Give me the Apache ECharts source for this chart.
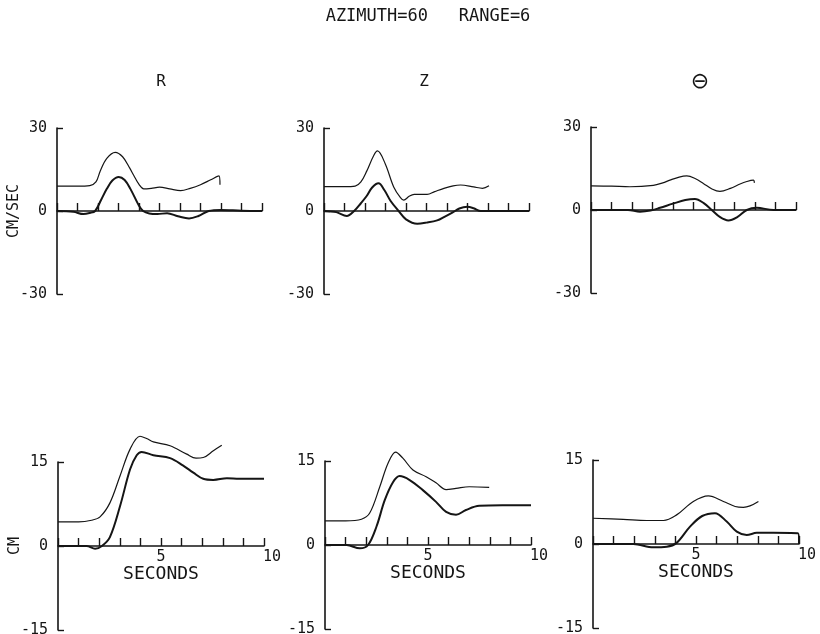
<!DOCTYPE html>
<html>
<head>
<meta charset="utf-8">
<script src="https://cdn.jsdelivr.net/npm/echarts@6/dist/echarts.min.js"></script>
<style>
html,body{margin:0;padding:0;background:#fff;}
#chart{width:820px;height:634px;}
</style>
</head>
<body>
<div id="chart"></div>
<script>
// ---- Data (time in seconds, value) ----
const mainTitle = 'AZIMUTH=60   RANGE=6';
const columnTitles = ['R', 'Z', '\u2296'];
const velocityTicks = [-30, 0, 30];
const displacementTicks = [-15, 0, 15];
const xTickLabels = [5, 10];

// Velocity (CM/SEC)
const rVelUpper = [[0,9.0],[1.0,9.0],[1.6,9.2],[1.9,10.5],[2.11,14.5],[2.43,19],[2.84,21.2],[3.2,19.6],[3.55,15.5],[3.74,12.9],[4.0,9.6],[4.23,8.0],[4.6,8.2],[5.0,8.6],[5.5,8.0],[6.03,7.4],[6.5,8.2],[7.0,9.5],[7.5,11.3],[7.9,12.7],[7.95,9.5]];
const rVelLower = [[0,0],[0.8,-0.3],[1.29,-1.1],[1.6,-0.7],[1.86,0],[2.15,4],[2.43,8],[2.7,11],[3.01,12.3],[3.3,11.2],[3.58,8],[4.0,1.9],[4.2,0],[4.5,-0.9],[4.9,-1.1],[5.37,-0.8],[5.9,-1.9],[6.44,-2.7],[6.9,-1.8],[7.4,0],[8.0,0.4],[9.0,0.1],[10,0]];
const zVelUpper = [[0,8.8],[1.0,8.8],[1.52,9.0],[1.8,10.5],[2.09,14.5],[2.42,20],[2.61,21.7],[2.99,17],[3.4,8.7],[3.73,4.8],[3.89,3.9],[4.15,5.3],[4.4,6.0],[5.03,6.0],[5.4,7.0],[5.85,8.2],[6.3,9.1],[6.66,9.4],[7.3,8.7],[7.73,8.2],[8.05,9.1]];
const zVelLower = [[0,0],[0.6,-0.4],[1.11,-1.8],[1.47,0],[1.8,2.8],[2.09,5.5],[2.35,8.5],[2.66,10],[2.95,7.5],[3.25,3.6],[3.64,0],[4.0,-3.0],[4.55,-4.6],[5.0,-4.2],[5.52,-3.4],[5.9,-2.0],[6.26,-0.6],[6.6,0.9],[6.99,1.5],[7.3,1.0],[7.65,0],[8.5,0],[10,0]];
const thVelUpper = [[0,8.7],[1.0,8.6],[1.9,8.4],[3.04,8.9],[3.5,9.8],[3.85,10.8],[4.3,11.9],[4.67,12.3],[5.1,11.3],[5.48,9.6],[5.9,7.6],[6.29,6.7],[6.8,7.8],[7.27,9.4],[7.6,10.3],[7.92,10.8],[7.97,9.8]];
const thVelLower = [[0,0],[1.8,0],[2.39,-0.6],[2.9,-0.2],[3.37,0.8],[4.0,2.3],[4.6,3.6],[5.07,4.0],[5.5,2.5],[5.89,0],[6.3,-2.6],[6.7,-3.8],[7.15,-2.5],[7.6,0],[8.08,0.8],[8.9,0],[10,0]];

// Displacement (CM)
const rDispUpper = [[0,4.3],[1.0,4.3],[1.63,4.6],[2.04,5.2],[2.52,7.7],[3.01,12.5],[3.5,17.3],[3.98,19.6],[4.3,19.2],[4.63,18.6],[5.44,17.9],[6.25,16.4],[6.7,15.7],[7.05,15.8],[7.54,17.0],[7.95,18.0]];
const rDispLower = [[0,0],[1.39,0],[1.8,-0.5],[2.13,0],[2.52,1.6],[3.01,7.1],[3.5,13.7],[3.82,16.2],[4.06,16.8],[4.63,16.2],[5.44,15.7],[6.06,14.4],[6.57,13.1],[7.05,12.0],[7.54,11.8],[8.2,12.1],[8.8,12.0],[10,12.0]];
const zDispUpper = [[0,4.3],[1.0,4.3],[1.77,4.6],[2.17,5.7],[2.66,10.4],[3.06,14.6],[3.43,16.6],[3.78,15.5],[4.27,13.4],[4.91,12.2],[5.39,11.1],[5.88,9.9],[6.36,10.1],[7.0,10.4],[7.97,10.3]];
const zDispLower = [[0,0],[1.05,0],[1.69,-0.6],[2.09,0],[2.5,3.3],[2.9,8.0],[3.3,11.2],[3.62,12.3],[4.11,11.6],[4.75,9.8],[5.39,7.7],[5.88,5.9],[6.36,5.4],[6.84,6.25],[7.49,7.0],[8.6,7.1],[10,7.1]];
const thDispUpper = [[0,4.6],[1.47,4.4],[2.61,4.2],[3.42,4.2],[4.06,5.2],[4.87,7.6],[5.6,8.6],[6.33,7.6],[6.9,6.7],[7.3,6.55],[7.62,6.8],[8.03,7.6]];
const thDispLower = [[0,0],[1.96,0],[2.93,-0.6],[3.58,-0.5],[4.06,0.2],[4.71,3.1],[5.3,5.0],[5.92,5.5],[6.49,4.0],[6.98,2.2],[7.46,1.6],[7.95,2.0],[8.75,2.0],[9.96,1.9],[10,0]];

// ---- Layout ----
const INK = '#151515';
const MONO = 'DejaVu Sans Mono';
const gridBoxes = [
  {left:57, top:128, width:205, height:166},
  {left:324, top:128, width:205, height:166},
  {left:591, top:127, width:205, height:166},
  {left:58, top:462, width:206, height:168},
  {left:325, top:461, width:206, height:168},
  {left:593, top:460, width:206, height:168}
];
const panels = [
  {upper:rVelUpper, lower:rVelLower, ticks:velocityTicks, yName:'CM/SEC', bottom:false},
  {upper:zVelUpper, lower:zVelLower, ticks:velocityTicks, yName:'', bottom:false},
  {upper:thVelUpper, lower:thVelLower, ticks:velocityTicks, yName:'', bottom:false},
  {upper:rDispUpper, lower:rDispLower, ticks:displacementTicks, yName:'CM', bottom:true},
  {upper:zDispUpper, lower:zDispLower, ticks:displacementTicks, yName:'', bottom:true},
  {upper:thDispUpper, lower:thDispLower, ticks:displacementTicks, yName:'', bottom:true}
];

const grids = gridBoxes.map(g => Object.assign({outerBoundsMode:'none', containLabel:false}, g));
const xAxes = [], yAxes = [], series = [];
panels.forEach((p, i) => {
  xAxes.push({
    type:'value', gridIndex:i, min:0, max:10, interval:1, position:'bottom',
    offset: -gridBoxes[i].height / 2,
    axisLine:{show:true, onZero:false, lineStyle:{color:INK, width:1.6}},
    axisTick:{show:true, inside:true, length:8, lineStyle:{color:INK, width:1.4}},
    splitLine:{show:false},
    axisLabel:{
      show:p.bottom, margin:4, color:INK, fontFamily:MONO, fontSize:15,
      formatter: v => (v === xTickLabels[0] ? String(v) : (v === xTickLabels[1] ? '{s|' + v + '}' : '')),
      rich:{s:{padding:[0,0,0,16], color:INK, fontFamily:MONO, fontSize:15}}
    },
    name: p.bottom ? 'SECONDS' : '',
    nameLocation:'middle', nameGap:19, nameMoveOverlap:false,
    nameTextStyle:{color:INK, fontFamily:MONO, fontSize:18}
  });
  yAxes.push({
    type:'value', gridIndex:i, min:p.ticks[0], max:p.ticks[2], interval:p.ticks[2],
    axisLine:{show:true, lineStyle:{color:INK, width:1.6}},
    axisTick:{show:true, inside:true, length:6, lineStyle:{color:INK, width:1.4}},
    splitLine:{show:false},
    axisLabel:{show:true, margin:10, color:INK, fontFamily:MONO, fontSize:15},
    name:p.yName, nameLocation:'middle', nameRotate:90, nameGap:35, nameMoveOverlap:false,
    nameTextStyle:{color:INK, fontFamily:MONO, fontSize:15}
  });
  series.push({
    type:'line', xAxisIndex:i, yAxisIndex:i, data:p.upper, smooth:0.35, clip:false,
    showSymbol:false, lineStyle:{color:INK, width:1.2}, silent:true, animation:false
  });
  series.push({
    type:'line', xAxisIndex:i, yAxisIndex:i, data:p.lower, smooth:0.35, clip:false,
    showSymbol:false, lineStyle:{color:INK, width:2}, silent:true, animation:false
  });
});

const titleXs = [161, 424, 700];
const graphics = [{
  type:'text', x:428, y:17,
  style:{text:mainTitle, fill:INK, font:'17px "' + MONO + '"', align:'center', verticalAlign:'middle'}
}];
columnTitles.forEach((t, i) => {
  graphics.push({
    type:'text', x:titleXs[i], y:82,
    style:{text:t, fill:INK, font:(i === 2 ? '22px "DejaVu Sans"' : '16px "' + MONO + '"'), align:'center', verticalAlign:'middle'}
  });
});

const chart = echarts.init(document.getElementById('chart'), null, {renderer:'canvas'});
chart.setOption({
  animation:false,
  backgroundColor:'#ffffff',
  grid:grids,
  xAxis:xAxes,
  yAxis:yAxes,
  series:series,
  graphic:graphics
});
</script>
</body>
</html>
